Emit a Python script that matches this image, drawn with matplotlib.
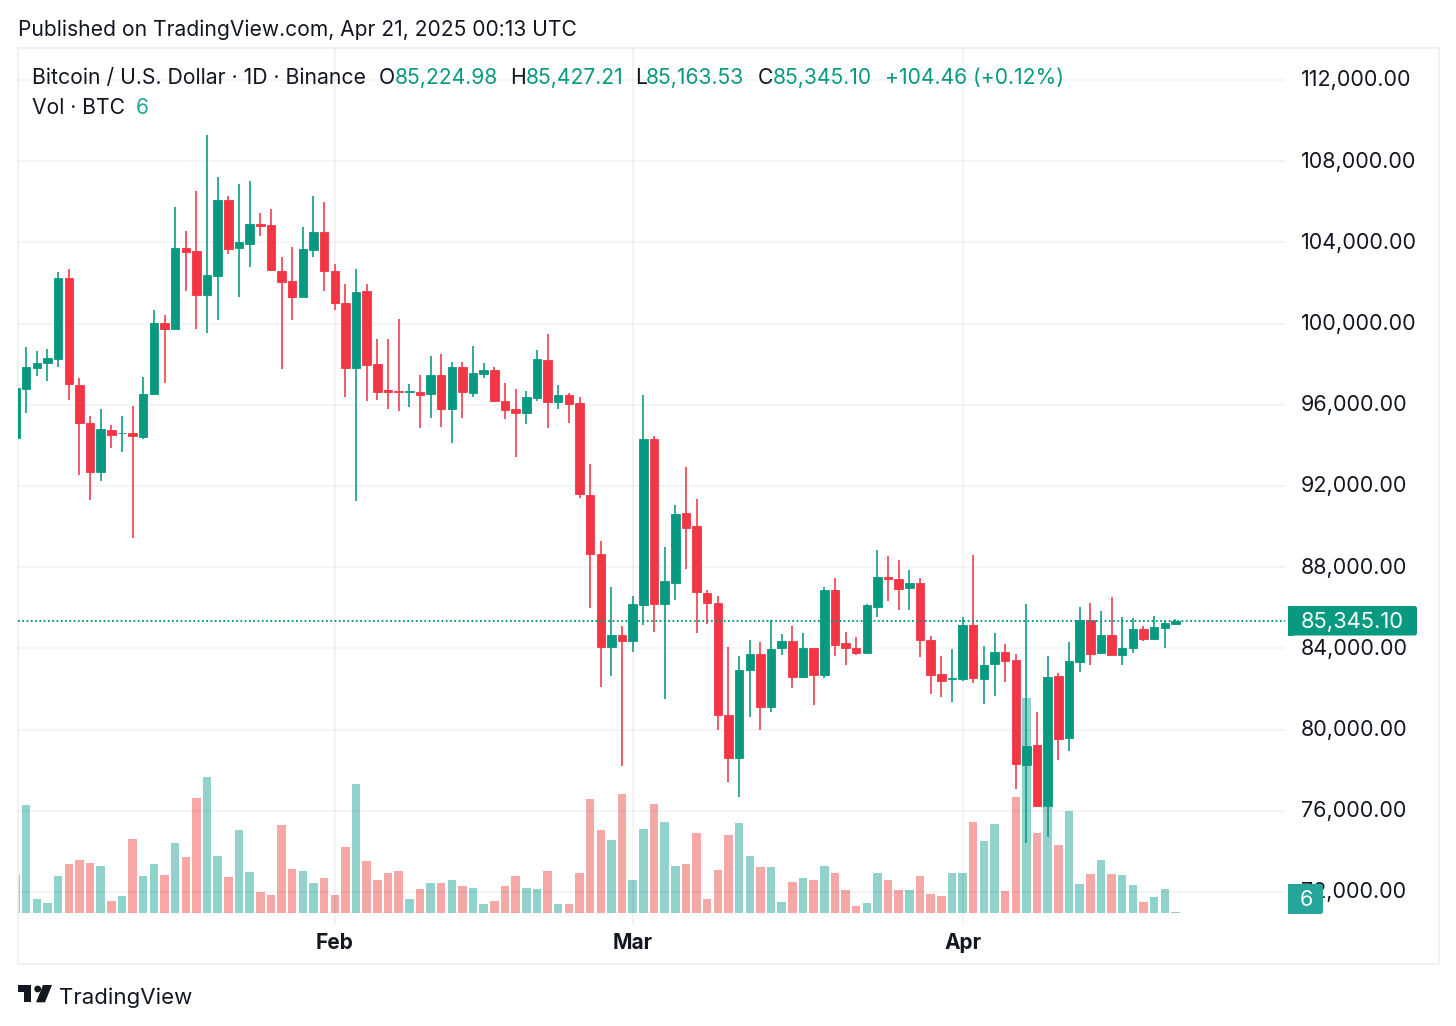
import matplotlib
matplotlib.use('Agg')
import matplotlib.pyplot as plt
import numpy as np
from matplotlib.patches import Circle, FancyBboxPatch, Polygon, Rectangle
from matplotlib.transforms import Affine2D, ScaledTranslation

plt.rcParams['font.family'] = ['Inter', 'DejaVu Sans']

# Daily BTC/USD candles, first bar is 30 days before Feb 1
first_day = -30
opens = [94350, 96793, 97828, 98060, 98271, 102232, 96976, 95119, 92705, 94744,
         94587, 94597, 94429, 96518, 100045, 99749, 103710, 103577, 101424, 102345,
         106089, 103739, 103936, 104892, 104843, 102606, 102084, 101325, 103626, 104513,
         102577, 101015, 97828, 101621, 97996, 96715, 96680, 96616, 96631, 96533,
         97468, 95794, 97863, 96597, 97518, 97700, 96203, 95779, 95611, 96350,
         98207, 96138, 96483, 96074, 91572, 88651, 84084, 84646, 84365, 86139,
         94331, 86188, 87237, 90656, 90016, 86730, 86252, 80720, 78602, 82922,
         83725, 81129, 84006, 84380, 82607, 84021, 82690, 86878, 84252, 84021,
         83789, 86055, 87518, 87434, 86991, 87208, 84415, 82725, 82493, 82478,
         85168, 82478, 83232, 83809, 83429, 78242, 79242, 76237, 82641, 79587,
         83346, 85385, 83774, 84646, 83691, 84006, 84956, 84479, 85020, 85224.98]
highs = [97800, 98833, 98651, 98734, 102527, 102675, 97306, 95449, 95808, 94991,
         95434, 95941, 97385, 100656, 100439, 105759, 104547, 106532, 109291, 107207,
         106286, 106892, 107010, 105449, 105631, 103266, 103788, 104744, 106286, 105990,
         102936, 101951, 102705, 101936, 99227, 99227, 100227, 97025, 97468, 98404,
         98488, 98124, 98124, 98912, 98060, 97863, 97074, 96779, 96680, 98700,
         99488, 96961, 96567, 96385, 93070, 89306, 87040, 85119, 86582, 96483,
         94464, 89011, 91065, 92921, 91360, 86878, 86582, 84084, 83641, 84415,
         84331, 85400, 84695, 85119, 84774, 84021, 87040, 87484, 84823, 84548,
         86188, 88833, 88538, 88355, 87848, 87484, 84597, 83641, 83956, 85548,
         88616, 84119, 84774, 84218, 83725, 86173, 80883, 83612, 82774, 84301,
         86040, 86237, 85858, 86533, 85533, 85483, 85119, 85597, 85385, 85427.21]
lows = [94350, 95611, 97419, 97188, 97877, 96222, 92557, 91326, 92262, 93873,
        93690, 89424, 94301, 96483, 97089, 99749, 101591, 99749, 99552, 100178,
        103429, 101325, 102803, 104330, 102606, 97779, 100178, 101325, 103266, 101606,
        100670, 96399, 91277, 96203, 96237, 95779, 95695, 95907, 94858, 95350,
        94907, 94119, 95350, 96399, 97306, 96138, 95301, 93429, 95040, 96188,
        94858, 95779, 95119, 91410, 86006, 82085, 82656, 78208, 83823, 85168,
        84823, 81508, 86385, 87912, 84745, 85218, 79981, 77420, 76681, 80636,
        79981, 80883, 83691, 82050, 82528, 81213, 82557, 83641, 83168, 83661,
        83789, 85562, 86350, 85892, 85877, 83577, 81740, 81621, 81346, 82410,
        82311, 81262, 81656, 82346, 77060, 74400, 76188, 74696, 78503, 78947,
        82823, 83183, 83725, 83661, 83183, 83789, 84350, 84415, 84036, 85163.53]
closes = [96813, 97863, 98074, 98306, 102232, 97025, 95089, 92705, 94794, 94528,
          94626, 94478, 96547, 100030, 99749, 103710, 103542, 101424, 102380, 106074,
          103690, 104005, 104892, 104823, 102641, 102035, 101325, 103660, 104513, 102606,
          101030, 97828, 101572, 97961, 96646, 96646, 96631, 96680, 96483, 97468,
          95794, 97863, 96616, 97567, 97700, 96173, 95744, 95611, 96385, 98257,
          96138, 96483, 96040, 91592, 88651, 84084, 84646, 84365, 86188, 94331,
          86188, 87306, 90621, 89932, 86764, 86237, 80735, 78602, 82937, 83725,
          81129, 83986, 84380, 82607, 84021, 82705, 86878, 84168, 84006, 83774,
          86139, 87518, 87419, 86942, 87208, 84415, 82705, 82394, 82543, 85168,
          82543, 83198, 83809, 83395, 78306, 79193, 76237, 82592, 79553, 83380,
          85400, 83740, 84646, 83691, 84021, 84956, 84479, 85040, 85252, 85345.10]
# thousand BTC
volumes = [11.4, 32.4, 4.2, 3.0, 11.1, 14.7, 15.9, 15.0, 14.2, 3.6,
           5.2, 22.2, 11.1, 14.7, 11.4, 20.9, 16.7, 34.5, 40.8, 17.1,
           10.8, 24.9, 12.3, 6.3, 5.4, 26.4, 13.2, 12.6, 9.0, 10.5,
           5.4, 19.8, 38.7, 15.6, 9.8, 12.1, 12.6, 4.2, 7.1, 9.0,
           9.0, 9.8, 8.1, 7.4, 2.6, 3.6, 8.1, 11.1, 7.4, 7.1,
           12.6, 2.8, 2.8, 11.9, 34.2, 24.9, 21.9, 35.7, 9.8, 25.2,
           32.7, 27.3, 14.0, 14.7, 24.1, 4.2, 12.9, 23.3, 27.0, 17.1,
           13.8, 13.8, 3.3, 9.2, 10.5, 9.9, 14.0, 11.9, 6.8, 2.1,
           3.0, 11.9, 9.8, 6.8, 6.8, 11.1, 5.7, 5.2, 12.1, 11.9,
           27.3, 21.6, 26.7, 6.6, 34.7, 64.4, 24.1, 31.9, 20.4, 30.5,
           8.7, 11.6, 15.9, 11.6, 11.3, 8.4, 3.3, 4.9, 7.1, 0.3]

price_ticks = [72000, 76000, 80000, 84000, 88000, 92000, 96000, 100000, 104000, 108000, 112000]
month_days = [0, 28, 59]
month_labels = ['Feb', 'Mar', 'Apr']

published = 'Published on TradingView.com, Apr 21, 2025 00:13 UTC'
symbol = 'Bitcoin / U.S. Dollar · 1D · Binance'
ohlc_names = ['O', 'H', 'L', 'C']
ohlc_values = ['85,224.98', '85,427.21', '85,163.53', '85,345.10']
change = '+104.46 (+0.12%)'
last_volume = '6'

W, H = 1456, 1026
GREEN, RED = '#089981', '#F23645'
VOL_GREEN, VOL_RED = '#26A69A', '#EF5350'
INK = '#131722'


def fx(x):
    return x / W


def fy(y):
    return 1 - y / H


days = first_day + np.arange(len(closes))
opens, highs, lows, closes = map(np.array, (opens, highs, lows, closes))
up = closes >= opens

fig = plt.figure(figsize=(W / 100, H / 100), dpi=100, facecolor='white')
pixel_tf = Affine2D().scale(1, -1).translate(0, H)
pane = [fx(18), fy(925), fx(1285 - 18), fy(48) - fy(925)]
ax_vol = fig.add_axes(pane, zorder=0)
ax = fig.add_axes(pane, zorder=1)
ax.patch.set_visible(False)

# volume pane sits behind the candles
ax_vol.bar(days, volumes, width=0.8, color=np.where(up, VOL_GREEN, VOL_RED), alpha=0.5, linewidth=0)
ax_vol.set_xlim(-29.77, 89.3)
ax_vol.set_ylim(-3.6, 259.5)
ax_vol.axis('off')

ax.grid(True, color='black', alpha=0.055, lw=1.1)
ax.set_axisbelow(True)
colors = np.where(up, GREEN, RED)
ax.vlines(days, lows, highs, colors=colors, lw=1.15, zorder=2)
ax.bar(days, np.abs(closes - opens), bottom=np.minimum(opens, closes), width=0.8,
       color=colors, edgecolor=colors, linewidth=0.6, zorder=3)
ax.axhline(closes[-1], color=GREEN, lw=1.4, ls=(0, (0.9, 1.3)), zorder=5)

ax.set_xlim(-29.77, 89.3)
ax.set_ylim(70375, 113577)
ax.yaxis.tick_right()
ax.set_yticks(price_ticks)
ax.set_yticklabels([f'{p:,.2f}' for p in price_ticks], fontsize=15.5, color=INK)
ax.set_xticks(month_days)
ax.set_xticklabels(month_labels, fontsize=15, fontweight='bold', color=INK)
ax.tick_params(axis='both', length=0)
ax.tick_params(axis='y', pad=11.5)
ax.tick_params(axis='x', pad=5.5)
# scale labels sit a little above their grid lines
lift = ScaledTranslation(0, 1.7 / 100, fig.dpi_scale_trans)
for label in ax.get_yticklabels():
    label.set_transform(label.get_transform() + lift)
for spine in ax.spines.values():
    spine.set_visible(False)

# outer frame
fig.add_artist(Rectangle((fx(17.5), fy(964)), fx(1421), fy(48) - fy(964), transform=fig.transFigure,
                         fill=False, edgecolor='#EFEFEF', lw=1.2))


def scale_tag(x0, x1, y0, y1, color):
    # rounded on the right only
    fig.add_artist(FancyBboxPatch((x0, y0), x1 - x0, y1 - y0, boxstyle='round,pad=0,rounding_size=2.5',
                                  transform=pixel_tf, facecolor=color, edgecolor='none', zorder=6))
    fig.add_artist(Rectangle((x0, y0), 6, y1 - y0, transform=pixel_tf, facecolor=color, edgecolor='none', zorder=6))


scale_tag(1288, 1417, 606, 635.5, GREEN)
fig.text(fx(1301), fy(622), f'{closes[-1]:,.2f}', fontsize=15.8, color='white', va='center', zorder=7)
scale_tag(1288, 1323, 884, 914, VOL_GREEN)
fig.text(fx(1306.5), fy(899.5), last_volume, fontsize=15.5, color='white', va='center', ha='center', zorder=7)

# header texts
fig.text(fx(18), fy(30), published, fontsize=15.15, color=INK, va='center')
fig.text(fx(32), fy(78), symbol, fontsize=15.25, color=INK, va='center')
for name, x in zip(ohlc_names, [379, 510, 635, 758]):
    fig.text(fx(x), fy(78), name, fontsize=15.2, color=INK, va='center')
for value, x in zip(ohlc_values, [395, 526, 646, 773]):
    fig.text(fx(x), fy(78), value, fontsize=15.2, color=GREEN, va='center')
fig.text(fx(885), fy(78), change, fontsize=15.2, color=GREEN, va='center')
fig.text(fx(32), fy(108), 'Vol · BTC', fontsize=15.2, color=INK, va='center')
fig.text(fx(136), fy(108), last_volume, fontsize=15.2, color=VOL_GREEN, va='center')

# footer logo
for pts in ([(17.5, 985), (30.7, 985), (30.7, 1002.3), (24, 1002.3), (24, 991.7), (17.5, 991.7)],
            [(52, 985), (43, 985), (36, 1002.3), (45, 1002.3)]):
    fig.add_artist(Polygon(pts, transform=pixel_tf, facecolor=INK, edgecolor='none'))
fig.add_artist(Circle((37.7, 989), 3.4, transform=pixel_tf, facecolor=INK, edgecolor='none'))
fig.text(fx(59), fy(998), 'TradingView', fontsize=16, color=INK, va='center')

fig.savefig('out.png', dpi=100, facecolor='white')
